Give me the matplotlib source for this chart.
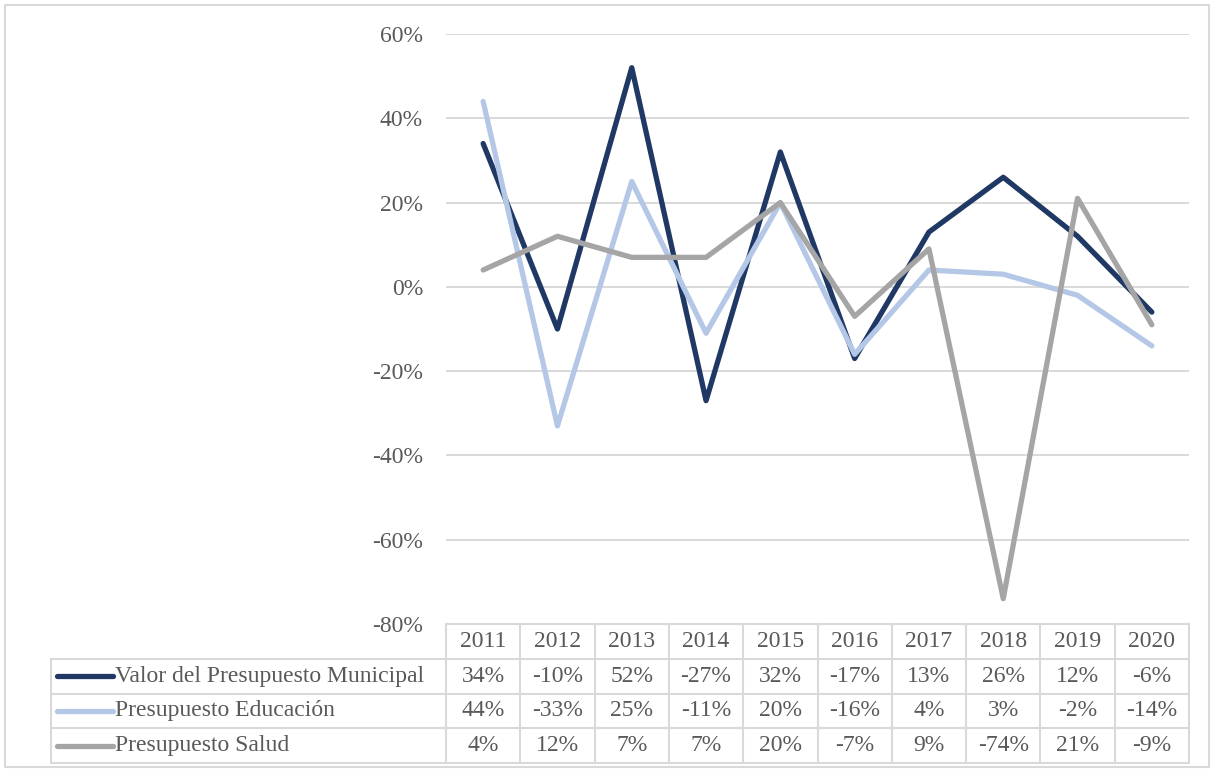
import matplotlib
matplotlib.use("Agg")
import matplotlib.pyplot as plt
from matplotlib.patches import Rectangle

plt.rcParams["font.family"] = ["Liberation Serif", "DejaVu Serif"]

years = ["2011", "2012", "2013", "2014", "2015", "2016", "2017", "2018", "2019", "2020"]
municipal = [34, -10, 52, -27, 32, -17, 13, 26, 12, -6]
educacion = [44, -33, 25, -11, 20, -16, 4, 3, -2, -14]
salud = [4, 12, 7, 7, 20, -7, 9, -74, 21, -9]

series = [
    ("Valor del Presupuesto Municipal", municipal, "#1F3864"),
    ("Presupuesto Educación", educacion, "#B4C7E7"),
    ("Presupuesto Salud", salud, "#A5A5A5"),
]
yticks = [60, 40, 20, 0, -20, -40, -60, -80]

TXT = "#595959"
GRID = "#D9D9D9"
FS = 17
W, H = 1214, 771

fig = plt.figure(figsize=(W / 100, H / 100), dpi=100)
# chart frame
fig.patches.append(Rectangle((5 / W, 4 / H), 1 - 10 / W, 1 - 9 / H, transform=fig.transFigure,
                             fill=False, ec="#D9D9D9", lw=1.5))

x0, x1 = 446 / W, 1189 / W
ax = fig.add_axes([x0, (H - 624) / H, x1 - x0, (624 - 34) / H])
xs = list(range(len(years)))
for name, vals, col in series:
    ax.plot(xs, [v / 100 for v in vals], color=col, lw=3.8,
            solid_capstyle="round", solid_joinstyle="round", zorder=3)
ax.set_xlim(-0.5, len(years) - 0.5)
ax.set_ylim(-0.8, 0.6)
ax.set_yticks([t / 100 for t in yticks])
ax.set_yticklabels([f"{t}%" for t in yticks])
ax.yaxis.grid(True, color=GRID, lw=1.4)
ax.set_axisbelow(True)
ax.set_xticks([])
ax.tick_params(axis="y", length=0, pad=16.5, labelsize=FS, labelcolor=TXT)
for s in ax.spines.values():
    s.set_visible(False)

# data table under the plot, columns aligned with the categories
tb = fig.add_axes([x0, (H - 763) / H, x1 - x0, (763 - 624) / H])
tb.set_xlim(-0.5, len(years) - 0.5)
tb.set_ylim(4, 0)
tb.axis("off")
colw = (1189 - 446) / len(years)
left = -0.5 - (446 - 51) / colw
lk = dict(color=GRID, lw=1.5, clip_on=False)
tb.plot([-0.5, len(years) - 0.5], [0, 0], **lk)
for r in range(1, 5):
    tb.plot([left, len(years) - 0.5], [r, r], **lk)
for c in range(len(years) + 1):
    tb.plot([c - 0.5, c - 0.5], [0, 4], **lk)
tb.plot([left, left], [1, 4], **lk)

for i, y in enumerate(years):
    tb.text(i, 0.5, y, ha="center", va="center", fontsize=FS, color=TXT)
for r, (name, vals, col) in enumerate(series, start=1):
    tb.plot([left + 6 / colw, left + 62 / colw], [r + 0.5, r + 0.5], color=col, lw=3.8,
            solid_capstyle="round", clip_on=False)
    tb.text(left + 64 / colw, r + 0.5, name, ha="left", va="center", fontsize=FS, color=TXT)
    for i, v in enumerate(vals):
        tb.text(i, r + 0.5, f"{v}%", ha="center", va="center", fontsize=FS, color=TXT)

fig.savefig("out.png", dpi=100)
